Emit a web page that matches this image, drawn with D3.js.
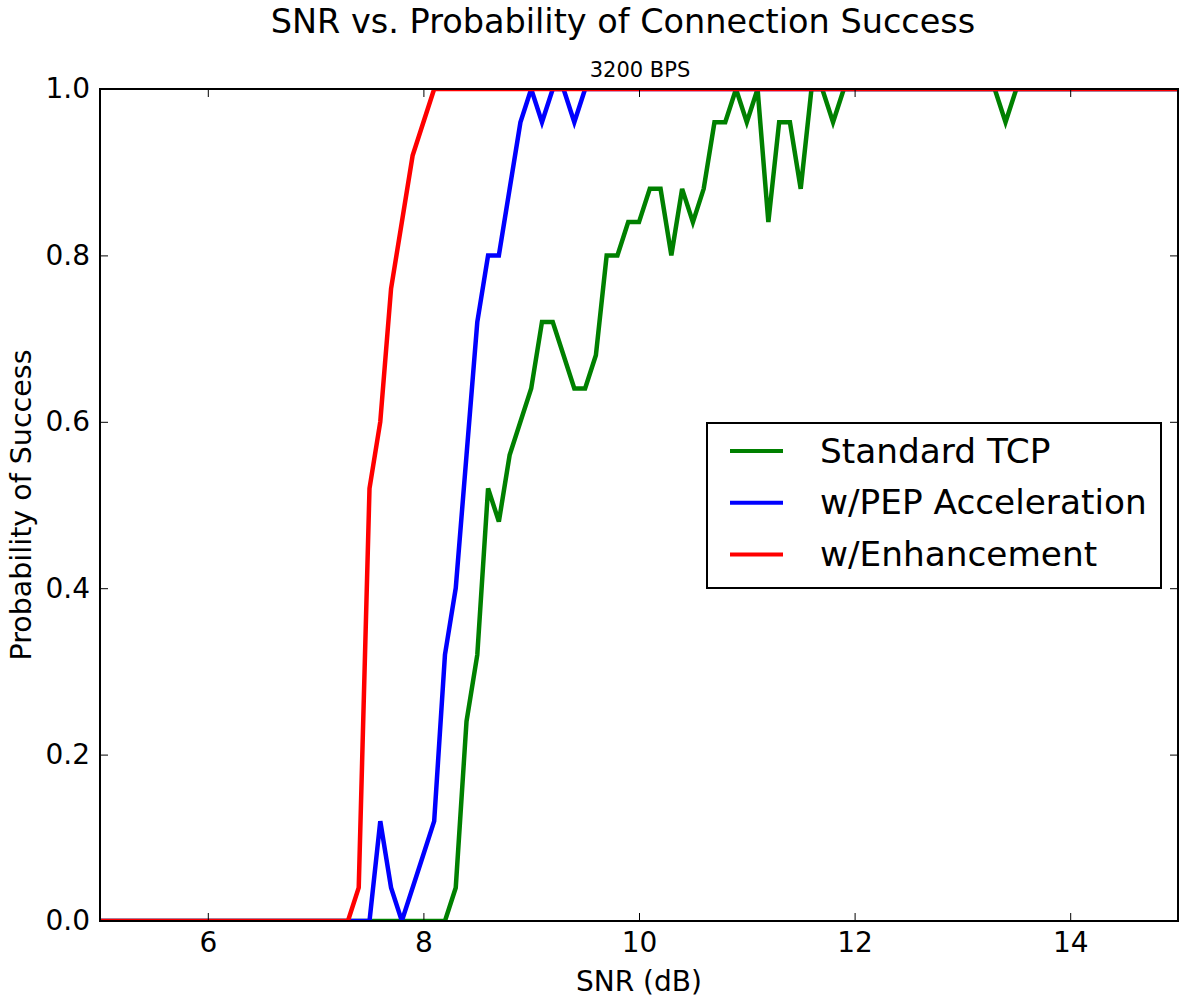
<!DOCTYPE html>
<html>
<head>
<meta charset="utf-8">
<script src="https://cdn.jsdelivr.net/npm/d3@7"></script>
<style>
  body { margin: 0; background: #fff; }
  svg text { font-family: "DejaVu Sans", sans-serif; fill: #000; }
</style>
</head>
<body>
<svg id="chart" width="1180" height="1000"></svg>
<script>
// ---- data ----
const seriesNames = ["Standard TCP", "w/PEP Acceleration", "w/Enhancement"];
const seriesColors = ["#008000", "#0000ff", "#ff0000"];

const tcpX = [5, 8.2, 8.3, 8.4, 8.5, 8.6, 8.7, 8.8, 8.9, 9.0, 9.1, 9.2, 9.3, 9.4, 9.5, 9.6, 9.7, 9.8, 9.9, 10.0,
  10.1, 10.2, 10.3, 10.4, 10.5, 10.6, 10.7, 10.8, 10.9, 11.0, 11.1, 11.2, 11.3, 11.4, 11.5, 11.6, 11.7, 11.8, 11.9,
  13.3, 13.4, 13.5, 15];
const tcpY = [0, 0, 0.04, 0.24, 0.32, 0.52, 0.48, 0.56, 0.60, 0.64, 0.72, 0.72, 0.68, 0.64, 0.64, 0.68, 0.80, 0.80, 0.84, 0.84,
  0.88, 0.88, 0.80, 0.88, 0.84, 0.88, 0.96, 0.96, 1.0, 0.96, 1.0, 0.84, 0.96, 0.96, 0.88, 1.0, 1.0, 0.96, 1.0,
  1.0, 0.96, 1.0, 1.0];

const pepX = [5, 7.5, 7.6, 7.7, 7.8, 7.9, 8.0, 8.1, 8.2, 8.3, 8.4, 8.5, 8.6, 8.7, 8.8, 8.9, 9.0, 9.1, 9.2, 9.3, 9.4, 9.5, 15];
const pepY = [0, 0, 0.12, 0.04, 0, 0.04, 0.08, 0.12, 0.32, 0.40, 0.56, 0.72, 0.80, 0.80, 0.88, 0.96, 1.0, 0.96, 1.0, 1.0, 0.96, 1.0, 1.0];

const enhX = [5, 7.3, 7.4, 7.5, 7.6, 7.7, 7.8, 7.9, 8.0, 8.1, 15];
const enhY = [0, 0, 0.04, 0.52, 0.60, 0.76, 0.84, 0.92, 0.96, 1.0, 1.0];

const xTicks = [6, 8, 10, 12, 14];
const yTicks = [0, 0.2, 0.4, 0.6, 0.8, 1.0];

const seriesX = [tcpX, pepX, enhX];
const seriesY = [tcpY, pepY, enhY];

// ---- layout ----
const svg = d3.select("#chart");
const L = 100, R = 1178, T = 89, B = 921;

const x = d3.scaleLinear().domain([5, 15]).range([L, R]);
const y = d3.scaleLinear().domain([0, 1]).range([B, T]);

svg.append("defs").append("clipPath").attr("id", "plotclip")
  .append("rect").attr("x", L).attr("y", T).attr("width", R - L).attr("height", B - T);

// lines
const line = d3.line().x(d => x(d[0])).y(d => y(d[1]));
const linesG = svg.append("g").attr("clip-path", "url(#plotclip)");
seriesNames.forEach((name, i) => {
  const pts = seriesX[i].map((v, j) => [v, seriesY[i][j]]);
  linesG.append("path")
    .datum(pts)
    .attr("d", line)
    .attr("fill", "none")
    .attr("stroke", seriesColors[i])
    .attr("stroke-width", 4.5)
    .attr("stroke-linejoin", "miter");
});

// axes (inward ticks)
function styleAxis(g) {
  g.select(".domain").remove();
  g.selectAll(".tick line").attr("stroke", "#000").attr("stroke-width", 1);
  g.selectAll(".tick text").style("font-family", "'DejaVu Sans', sans-serif").style("font-size", "28px").attr("fill", "#000");
}
svg.append("g").attr("transform", `translate(0,${B})`)
  .call(d3.axisBottom(x).tickValues(xTicks).tickSize(-8).tickPadding(11).tickFormat(d3.format("d")))
  .call(styleAxis);
svg.append("g").attr("transform", `translate(0,${T})`)
  .call(d3.axisTop(x).tickValues(xTicks).tickSize(-8).tickFormat(""))
  .call(styleAxis);
svg.append("g").attr("transform", `translate(${L},0)`)
  .call(d3.axisLeft(y).tickValues(yTicks).tickSize(-8).tickPadding(10).tickFormat(d3.format(".1f")))
  .call(styleAxis);
svg.append("g").attr("transform", `translate(${R},0)`)
  .call(d3.axisRight(y).tickValues(yTicks).tickSize(-8).tickFormat(""))
  .call(styleAxis);

// frame
svg.append("rect").attr("x", L).attr("y", T).attr("width", R - L).attr("height", B - T)
  .attr("fill", "none").attr("stroke", "#000").attr("stroke-width", 2);

// titles
svg.append("text").attr("x", 623).attr("y", 33).attr("text-anchor", "middle")
  .style("font-size", "33.5px").text("SNR vs. Probability of Connection Success");
svg.append("text").attr("x", 640).attr("y", 77).attr("text-anchor", "middle")
  .style("font-size", "21px").text("3200 BPS");
svg.append("text").attr("x", (L + R) / 2).attr("y", 991).attr("text-anchor", "middle")
  .style("font-size", "28px").text("SNR (dB)");
svg.append("text").attr("transform", `translate(31,${(T + B) / 2}) rotate(-90)`)
  .attr("text-anchor", "middle").style("font-size", "28.5px").text("Probability of Success");

// legend
const lg = svg.append("g");
lg.append("rect").attr("x", 707).attr("y", 423).attr("width", 454).attr("height", 165)
  .attr("fill", "#fff").attr("stroke", "#000").attr("stroke-width", 2);
seriesNames.forEach((name, i) => {
  const cy = 451 + i * 51.7;
  lg.append("line").attr("x1", 730).attr("x2", 783).attr("y1", cy).attr("y2", cy)
    .attr("stroke", seriesColors[i]).attr("stroke-width", 4);
  lg.append("text").attr("x", 820).attr("y", cy + 11.5).style("font-size", "34.3px").text(name);
});
</script>
</body>
</html>
